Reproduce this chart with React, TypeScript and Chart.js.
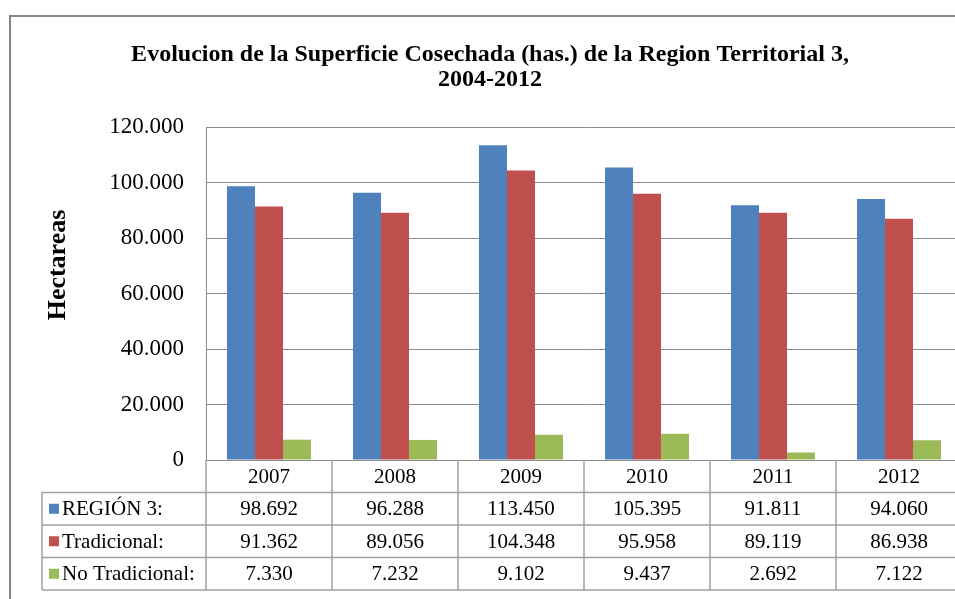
import React, { useEffect, useRef } from 'react';
import { Chart, registerables } from 'chart.js';

Chart.register(...registerables);

const categories = ['2007', '2008', '2009', '2010', '2011', '2012'];
const region3 = [98692, 96288, 113450, 105395, 91811, 94060];
const tradicional = [91362, 89056, 104348, 95958, 89119, 86938];
const noTradicional = [7330, 7232, 9102, 9437, 2692, 7122];
const seriesLabels = ['REGIÓN 3:', 'Tradicional:', 'No Tradicional:'];
const seriesColors = ['#4F81BD', '#C0504D', '#9BBB59'];
const titleLines = ['Evolucion de la Superficie Cosechada (has.) de la Region Territorial 3,', '2004-2012'];
const yAxisTitle = 'Hectareas';
const yMin = 0;
const yMax = 120000;
const yStep = 20000;

const SERIF = "'Liberation Serif', 'Times New Roman', serif";
const GRID = '#8c8c8c';
const TABLE_LINE = '#a0a0a0';

const fmt = (v: number) => String(Math.round(v)).replace(/\B(?=(\d{3})+(?!\d))/g, '.');

const tablePlugin = {
  id: 'dataTable',
  beforeDraw(chart: any) {
    const { ctx, width, height } = chart;
    ctx.save();
    ctx.fillStyle = '#ffffff';
    ctx.fillRect(0, 0, width, height);
    ctx.strokeStyle = '#878787';
    ctx.lineWidth = 2;
    ctx.strokeRect(10, 16, width + 40, height + 40);
    ctx.restore();
  },
  afterDraw(chart: any) {
    const { ctx, chartArea } = chart;
    const xs = chart.scales.x;
    const n = categories.length;
    const catW = (chartArea.right - chartArea.left) / n;
    const headerTop = chartArea.bottom;
    const rowH = 32.5;
    const rowsTop = headerTop + rowH;
    const datasets = chart.data.datasets;
    const bottom = rowsTop + rowH * datasets.length;
    const labelLeft = 42;

    ctx.save();
    ctx.strokeStyle = TABLE_LINE;
    ctx.lineWidth = 1.5;
    for (let k = 0; k <= n; k++) {
      const x = k < n ? xs.getPixelForValue(k) - catW / 2 : xs.getPixelForValue(n - 1) + catW / 2;
      ctx.beginPath();
      ctx.moveTo(x, headerTop);
      ctx.lineTo(x, bottom);
      ctx.stroke();
    }
    ctx.beginPath();
    ctx.moveTo(labelLeft, rowsTop);
    ctx.lineTo(labelLeft, bottom);
    ctx.stroke();
    for (let r = 0; r <= datasets.length; r++) {
      const y = rowsTop + r * rowH;
      ctx.beginPath();
      ctx.moveTo(labelLeft, y);
      ctx.lineTo(chartArea.right + 40, y);
      ctx.stroke();
    }

    ctx.fillStyle = '#000';
    ctx.font = `21px ${SERIF}`;
    ctx.textBaseline = 'middle';
    datasets.forEach((ds: any, s: number) => {
      const cy = rowsTop + s * rowH + rowH / 2;
      ctx.fillStyle = ds.backgroundColor;
      ctx.fillRect(49, cy - 5, 10, 10);
      ctx.fillStyle = '#000';
      ctx.textAlign = 'left';
      ctx.fillText(seriesLabels[s], 62, cy + 1);
      ctx.textAlign = 'center';
      ds.data.forEach((v: number, i: number) => {
        ctx.fillText(fmt(v), xs.getPixelForValue(i), cy + 1);
      });
    });

    ctx.save();
    ctx.translate(58, 265);
    ctx.rotate(-Math.PI / 2);
    ctx.font = `bold 26px ${SERIF}`;
    ctx.textAlign = 'center';
    ctx.textBaseline = 'middle';
    ctx.fillText(yAxisTitle, 0, 0);
    ctx.restore();

    ctx.restore();
  },
};

export default function App() {
  const canvasRef = useRef<HTMLCanvasElement | null>(null);

  useEffect(() => {
    if (!canvasRef.current) return;
    const chart = new Chart(canvasRef.current, {
      type: 'bar',
      data: {
        labels: categories,
        datasets: [
          { label: seriesLabels[0], data: region3, backgroundColor: seriesColors[0] },
          { label: seriesLabels[1], data: tradicional, backgroundColor: seriesColors[1] },
          { label: seriesLabels[2], data: noTradicional, backgroundColor: seriesColors[2] },
        ],
      },
      options: {
        responsive: false,
        animation: false,
        devicePixelRatio: 1,
        layout: { padding: { top: 0, left: 18, right: 18, bottom: 0 } },
        datasets: {
          bar: { barPercentage: 1, categoryPercentage: 0.667, borderWidth: 0 },
        },
        plugins: {
          legend: { display: false },
          tooltip: { enabled: false },
          title: {
            display: true,
            text: titleLines,
            color: '#000',
            font: { family: SERIF, size: 24, weight: 'bold', lineHeight: '25px' },
            padding: { top: 42.5, bottom: 34.5 },
          },
        },
        scales: {
          x: {
            afterFit: (s: any) => {
              s.height = 160;
            },
            grid: { display: false, drawTicks: false },
            border: { display: true, color: GRID, width: 1 },
            ticks: { color: '#000', font: { family: SERIF, size: 21 }, padding: 5 },
          },
          y: {
            min: yMin,
            max: yMax,
            afterFit: (s: any) => {
              s.width = 188;
            },
            grid: { color: GRID, lineWidth: 1, drawTicks: false },
            border: { display: true, color: GRID, width: 1 },
            ticks: {
              stepSize: yStep,
              color: '#000',
              font: { family: SERIF, size: 23 },
              padding: 22,
              callback: (v: any) => fmt(Number(v)),
            },
          },
        },
      },
      plugins: [tablePlugin],
    });
    return () => chart.destroy();
  }, []);

  return (
    <div style={{ position: 'fixed', left: 0, top: 0, width: '955px', height: '599px', overflow: 'hidden', background: '#fff' }}>
      <canvas ref={canvasRef} width={980} height={620} style={{ display: 'block' }} />
    </div>
  );
}
